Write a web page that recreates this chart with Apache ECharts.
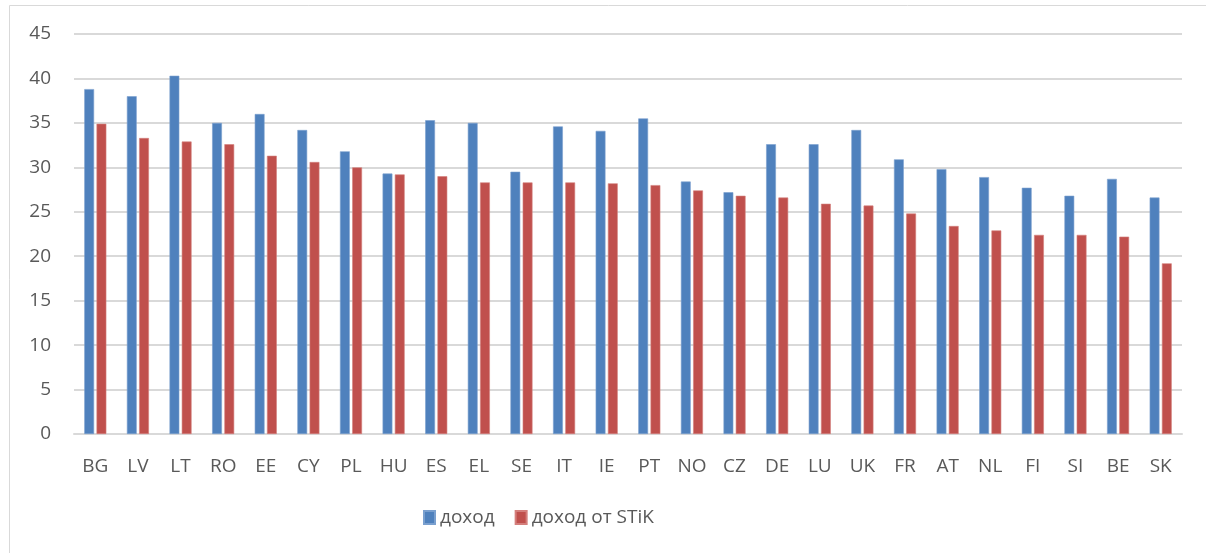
<!DOCTYPE html>
<html>
<head>
<meta charset="utf-8">
<script src="https://cdn.jsdelivr.net/npm/echarts@6/dist/echarts.min.js"></script>
<style>
  html, body { margin: 0; padding: 0; background: #ffffff; }
  #chart { width: 1206px; height: 553px; }
</style>
</head>
<body>
<div id="chart"></div>
<script>
// Country codes along the x axis
const countries = ['BG', 'LV', 'LT', 'RO', 'EE', 'CY', 'PL', 'HU', 'ES', 'EL', 'SE', 'IT', 'IE',
  'PT', 'NO', 'CZ', 'DE', 'LU', 'UK', 'FR', 'AT', 'NL', 'FI', 'SI', 'BE', 'SK'];

// Income inequality before transfers
const income = [38.8, 38.0, 40.3, 35.0, 36.0, 34.2, 31.8, 29.3, 35.3, 35.0, 29.5, 34.6, 34.1,
  35.5, 28.4, 27.2, 32.6, 32.6, 34.2, 30.9, 29.8, 28.9, 27.7, 26.8, 28.7, 26.6];

// Income after social transfers
const incomeStik = [34.9, 33.3, 32.9, 32.6, 31.3, 30.6, 30.0, 29.2, 29.0, 28.3, 28.3, 28.3, 28.2,
  28.0, 27.4, 26.8, 26.6, 25.9, 25.7, 24.8, 23.4, 22.9, 22.4, 22.4, 22.2, 19.2];

const seriesNames = ['доход', 'доход от STiK'];

const textColor = '#595959';
const fontFamily = 'Open Sans';

const chart = echarts.init(document.getElementById('chart'), null, { renderer: 'canvas' });

chart.setOption({
  animation: false,
  backgroundColor: '#ffffff',
  textStyle: { fontFamily: fontFamily },
  graphic: [{
    type: 'rect',
    shape: { x: 9.5, y: 5.5, width: 1210, height: 560 },
    style: { fill: 'none', stroke: '#d9d9d9', lineWidth: 1 },
    silent: true,
    z: -1
  }],
  grid: { left: 74, right: 24, top: 34, bottom: 119, containLabel: false },
  legend: {
    left: 423,
    top: 508,
    padding: 0,
    itemWidth: 11,
    itemHeight: 13,
    itemGap: 20,
    icon: 'rect',
    textStyle: { color: textColor, fontSize: 19, fontFamily: fontFamily },
    data: seriesNames
  },
  xAxis: {
    type: 'category',
    data: countries,
    axisLine: { lineStyle: { color: '#d9d9d9', width: 2 } },
    axisTick: { show: false },
    axisLabel: { color: textColor, fontSize: 19, fontFamily: fontFamily, margin: 23 },
    splitLine: { show: false }
  },
  yAxis: {
    type: 'value',
    min: 0,
    max: 45,
    interval: 5,
    axisLine: { show: false },
    axisTick: { show: false },
    axisLabel: { color: textColor, fontSize: 19, fontFamily: fontFamily, margin: 23 },
    splitLine: { lineStyle: { color: '#d9d9d9', width: 2 } }
  },
  series: [
    {
      name: seriesNames[0],
      type: 'bar',
      data: income,
      barWidth: '23%',
      barGap: '25%',
      itemStyle: { color: '#4f81bd', borderColor: '#7aa0cf', borderWidth: 0.6 }
    },
    {
      name: seriesNames[1],
      type: 'bar',
      data: incomeStik,
      barWidth: '23%',
      itemStyle: { color: '#c0504d', borderColor: '#d47f7c', borderWidth: 0.6 }
    }
  ]
});
</script>
</body>
</html>
